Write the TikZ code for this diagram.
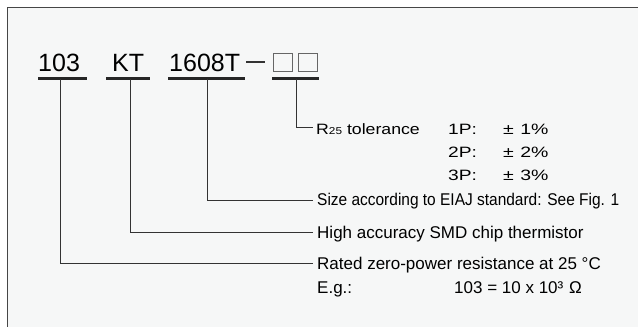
\documentclass[tikz,border=0pt]{standalone}
\usepackage{fontspec}
\setmainfont{Liberation Sans}
\usepackage{graphicx}
\definecolor{panel}{RGB}{246,247,247}
\definecolor{framec}{RGB}{70,70,70}
\begin{document}
\begin{tikzpicture}[x=1pt,y=-1pt,
 big/.style={inner sep=0,anchor=base west,font=\fontsize{25}{25}\selectfont},
 txt/.style={inner sep=0,anchor=base west,font=\fontsize{17}{17}\selectfont},
 tol/.style={inner sep=0,anchor=base west,font=\fontsize{15}{15}\selectfont},
 uline/.style={line width=2.6pt,draw=black!85},
 conn/.style={line width=0.9pt,draw=black!80},
 cell/.style={draw=black!60,line width=0.8pt,minimum width=19pt,minimum height=17.5pt,inner sep=0}]
\useasboundingbox (0,0) rectangle (638,327);
\fill[white] (0,0) rectangle (638,327);
\fill[panel] (7.5,7.5) rectangle (640,330);
\draw[framec,line width=1.4pt] (7.5,330) -- (7.5,7.5) -- (640,7.5);

% code parts
\node[big] (p103) at (38,71) {103};
\node[big] (pKT) at (112,71) {KT};
\node[big] (p1608) at (169,71) {1608T};
\draw[line width=1.3pt,black!80] (246,62) -- (265,62);
\node[cell] (c1) at (283,62.3) {};
\node[cell] (c2) at (307.8,62.3) {};

% underlines
\draw[uline] (38,78.5) -- (87,78.5);
\draw[uline] (106,78.5) -- (150,78.5);
\draw[uline] (168,78.5) -- (245,78.5);
\draw[uline] (272,78.5) -- (319,78.5);
\coordinate (u1) at (60.5,78.5);
\coordinate (u2) at (130,78.5);
\coordinate (u3) at (207,78.5);
\coordinate (u4) at (296,78.5);

% end points
\coordinate (e4) at (313,127.5);
\coordinate (e3) at (313,200.5);
\coordinate (e2) at (313,232);
\coordinate (e1) at (313,263.5);

\draw[conn] (u4) |- (e4);
\draw[conn] (u3) |- (e3);
\draw[conn] (u2) |- (e2);
\draw[conn] (u1) |- (e1);

% texts
\node[tol] (ttol) at (316,134) {\scalebox{1.18}[1]{R{\fontsize{10}{10}\selectfont 25} tolerance}};
\node[tol] (r1a) at (448,134) {\scalebox{1.28}[1]{1P:}};
\node[tol] (r1b) at (503,134) {\scalebox{1.3}[1]{±\,\,1\%}};
\node[tol] (r2a) at (448,157) {\scalebox{1.28}[1]{2P:}};
\node[tol] (r2b) at (503,157) {\scalebox{1.3}[1]{±\,\,2\%}};
\node[tol] (r3a) at (448,180) {\scalebox{1.28}[1]{3P:}};
\node[tol] (r3b) at (503,180) {\scalebox{1.3}[1]{±\,\,3\%}};

\node[txt] (tsize) at (317,205.5) {\scalebox{0.91}[1]{Size according to EIAJ standard: See Fig. 1}};
\node[txt] (thigh) at (317,238.5) {High accuracy SMD chip thermistor};
\node[txt] (trated) at (317,269.5) {Rated zero-power resistance at 25 °C};
\node[txt] (teg) at (317,293) {E.g.:};
\node[txt] (tval) at (454,293) {103 = 10 x 10³\,\,Ω};
\end{tikzpicture}
\end{document}
